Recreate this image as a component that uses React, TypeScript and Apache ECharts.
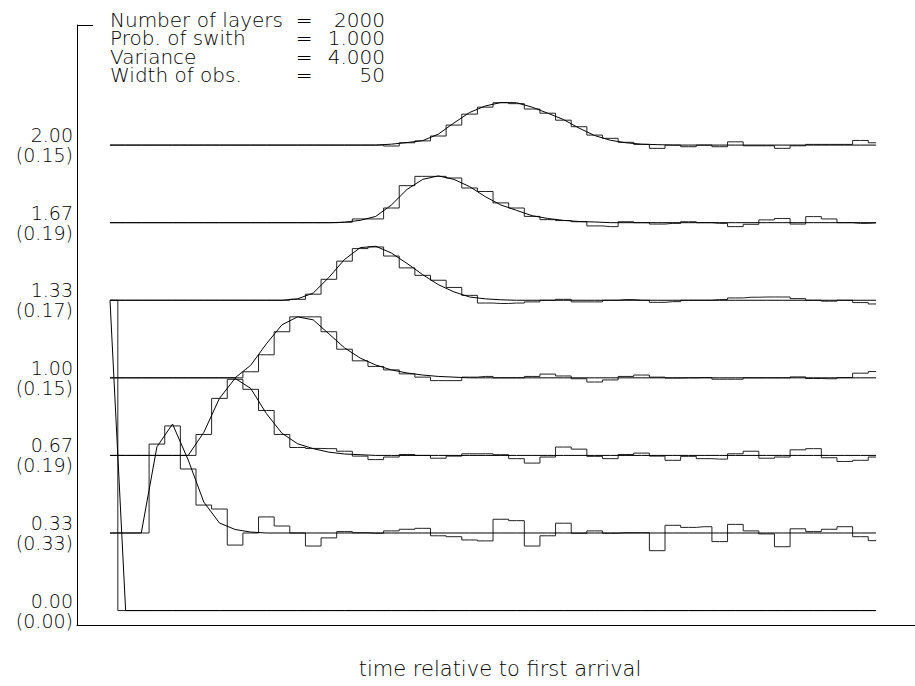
import React, { useEffect, useRef } from "react";
import * as echarts from "echarts";

// ---- data ----
const LEVELS = [0, 1 / 3, 2 / 3, 1, 4 / 3, 5 / 3, 2];
const LEVEL_LABELS = ["0.00", "0.33", "0.67", "1.00", "1.33", "1.67", "2.00"];
const SCALE_LABELS = ["(0.00)", "(0.33)", "(0.19)", "(0.15)", "(0.17)", "(0.19)", "(0.15)"];

const INFO_NAMES = ["Number of layers", "Prob. of swith", "Variance", "Width of obs."];
const INFO_VALUES = ["2000", "1.000", "4.000", "50"];
const X_TITLE = "time relative to first arrival";

// histograms (observed) and model curves, amplitude above each trace's level
const H0 = [1.333,0,0,0,0,0,0,0,0,0, 0,0,0,0,0,0,0,0,0,0, 0,0,0,0,0,0,0,0,0,0, 0,0,0,0,0,0,0,0,0,0, 0,0,0,0,0,0,0,0,0,0];
const C0 = [1.333,0,0,0,0,0,0,0,0,0, 0,0,0,0,0,0,0,0,0,0, 0,0,0,0,0,0,0,0,0,0, 0,0,0,0,0,0,0,0,0,0, 0,0,0,0,0,0,0,0,0,0];

const H1 = [0,0,0,0.382,0.460,0.275,0.120,0.103,-0.052,0,
  0.069,0.030,0,-0.056,-0.021,0.006,0.001,-0.001,0.009,0.016,
  0.020,-0.012,-0.016,-0.030,-0.034,0.059,0.053,-0.056,-0.012,0.042,
  -0.001,0.009,-0.001,0.001,0.001,-0.076,0.033,0.024,0.027,-0.037,
  0.037,0.009,-0.004,-0.059,0.018,0.006,0.016,0.027,-0.016,-0.033];
const C1 = [0,0,0,0.370,0.468,0.314,0.133,0.043,0.015,0.004,
  0,0,0,0,0,0,0,0,0,0, 0,0,0,0,0,0,0,0,0,0, 0,0,0,0,0,0,0,0,0,0, 0,0,0,0,0,0,0,0,0,0];

const H2 = [0,0,0,0,0,0,0.090,0.245,0.327,0.284,
  0.193,0.090,0.034,0.030,0.029,0.018,-0.003,-0.018,-0.007,0.004,
  0,-0.012,-0.003,0.007,0.007,0.003,-0.014,-0.033,-0.007,0.036,
  0.027,-0.004,-0.014,0.004,0.010,-0.003,-0.021,-0.004,-0.014,-0.016,
  0.007,0.018,-0.012,-0.007,0.024,0.029,-0.010,-0.026,-0.021,-0.007];
const C2 = [0,0,0,0,0,0,0.099,0.245,0.331,0.288,
  0.180,0.095,0.050,0.029,0.014,0.006,0.003,0,0,0,
  0,0,0,0,0,0,0,0,0,0, 0,0,0,0,0,0,0,0,0,0, 0,0,0,0,0,0,0,0,0,0];

const H3 = [0,0,0,0,0,0,0,0,0,0.026,
  0.099,0.198,0.262,0.262,0.198,0.123,0.073,0.049,0.034,0.017,
  0.003,-0.012,-0.012,0.003,0.006,0,0,0.006,0.016,0.008,
  -0.004,-0.018,-0.009,0.006,0.012,0.003,-0.001,0,0.001,-0.006,
  -0.006,0,0,0,0.004,-0.003,-0.004,0.001,0.020,0.027];
const C3 = [0,0,0,0,0,0,0,0,0,0.054,
  0.146,0.228,0.262,0.249,0.189,0.129,0.085,0.055,0.034,0.021,
  0.012,0.006,0.003,0,0,0,0,0,0,0,
  0,0,0,0,0,0,0,0,0,0, 0,0,0,0,0,0,0,0,0,0];

const H4 = [0,0,0,0,0,0,0,0,0,0,
  0,0,0.004,0.026,0.090,0.168,0.222,0.229,0.190,0.139,
  0.107,0.086,0.055,0.021,-0.012,-0.014,-0.012,-0.007,0,0.004,
  -0.007,-0.007,0,0.003,0,-0.009,-0.006,0,0,0.003,
  0.010,0.013,0.014,0.014,0.007,0,-0.004,0,-0.010,-0.016];
const C4 = [0,0,0,0,0,0,0,0,0,0,
  0,0,0.006,0.031,0.098,0.175,0.226,0.232,0.203,0.158,
  0.110,0.067,0.036,0.014,0.006,0.002,0,0,0,0,
  0,0,0,0,0,0,0,0,0,0, 0,0,0,0,0,0,0,0,0,0];

const H5 = [0,0,0,0,0,0,0,0,0,0,
  0,0,0,0,0,0.002,0.016,0.016,0.063,0.159,
  0.199,0.199,0.192,0.149,0.134,0.085,0.063,0.027,0.013,0.009,
  0.004,-0.014,-0.017,0.004,0,-0.006,-0.003,0.004,0,-0.003,
  -0.017,-0.007,0.012,0.018,-0.006,0.026,0.016,0,-0.003,-0.001];
const C5 = [0,0,0,0,0,0,0,0,0,0,
  0,0,0,0,0,0.002,0.010,0.027,0.076,0.143,
  0.186,0.201,0.186,0.155,0.112,0.076,0.053,0.030,0.018,0.010,
  0.005,0.003,0,0,0,0,0,0,0,0, 0,0,0,0,0,0,0,0,0,0];

const H6 = [0,0,0,0,0,0,0,0,0,0,
  0,0,0,0,0,0,0,0,-0.004,0.010,
  0.018,0.039,0.086,0.133,0.163,0.182,0.178,0.155,0.137,0.107,
  0.079,0.043,0.029,0.012,0.003,-0.014,0,-0.007,0,-0.007,
  0.014,-0.003,-0.003,-0.014,-0.003,0.003,0.003,0.003,0.020,0.010];
const C6 = [0,0,0,0,0,0,0,0,0,0,
  0,0,0,0,0,0,0,0,0.004,0.011,
  0.019,0.047,0.095,0.140,0.168,0.183,0.182,0.163,0.137,0.110,
  0.073,0.041,0.021,0.010,0.004,0.002,0,0,0,0,
  0,0,0,0,0,0,0,0,0,0];

const HISTS = [H0, H1, H2, H3, H4, H5, H6];
const CURVES = [C0, C1, C2, C3, C4, C5, C6];

const FONT = "DejaVu Sans";

export default function App() {
  const ref = useRef<HTMLDivElement>(null);
  useEffect(() => {
    if (!ref.current) return;
    const chart = echarts.init(ref.current, null, { renderer: "svg" });
    const series: any[] = [];
    LEVELS.forEach((lv, t) => {
      series.push({
        type: "line",
        step: "middle",
        symbol: "none",
        silent: true,
        lineStyle: { color: "#222", width: 1 },
        data: HISTS[t].map((v, k) => [k, lv + v]),
      });
      series.push({
        type: "line",
        symbol: "none",
        silent: true,
        lineStyle: { color: "#000", width: 1 },
        data: CURVES[t].map((v, k) => [k, lv + v]),
      });
    });
    const block = (text: string, x: number, yTop: number, align: string, size: number, lh: number) => ({
      type: "text",
      x,
      y: yTop,
      silent: true,
      style: {
        text,
        fill: "#000",
        fontFamily: FONT,
        fontWeight: 200,
        fontSize: size,
        lineHeight: lh,
        align,
        verticalAlign: "top",
      },
    });
    const LH = 18.3;
    const top = 20 - LH / 2;
    const graphic: any[] = [
      {
        type: "line",
        silent: true,
        shape: { x1: 77, y1: 25.5, x2: 93, y2: 25.5 },
        style: { stroke: "#000", lineWidth: 1 },
      },
      block(INFO_NAMES.join("\n"), 110, top, "left", 20, LH),
      block(["=", "=", "=", "="].join("\n"), 304, top, "center", 20, LH),
      block(INFO_VALUES.join("\n"), 385, top, "right", 20, LH),
      block(X_TITLE, 500, 669 - 12, "center", 21, 24),
    ];

    chart.setOption({
      animation: false,
      backgroundColor: "#fff",
      grid: { left: 77, right: 0, top: 25, bottom: 61, containLabel: false, outerBoundsMode: "none" },
      xAxis: {
        type: "value",
        min: -2.111,
        max: 51.49,
        axisLine: { show: true, onZero: false, lineStyle: { color: "#000", width: 1 } },
        axisTick: { show: false },
        axisLabel: { show: false },
        splitLine: { show: false },
      },
      yAxis: {
        type: "value",
        min: -0.062,
        max: 2.516,
        axisLine: { show: true, onZero: false, lineStyle: { color: "#000", width: 1 } },
        axisTick: { show: false },
        splitLine: { show: false },
        axisLabel: {
          show: true,
          customValues: LEVELS,
          margin: 4,
          color: "#000",
          fontFamily: FONT,
          fontWeight: 200,
          fontSize: 19,
          lineHeight: 20,
          align: "right",
          padding: [5, 0, 0, 0],
          formatter: (v: number) => {
            const i = LEVELS.findIndex((l) => Math.abs(l - v) < 1e-6);
            return i < 0 ? "" : LEVEL_LABELS[i] + "\n" + SCALE_LABELS[i];
          },
        },
      },
      graphic,
      series,
    });
    return () => chart.dispose();
  }, []);
  return (
    <div
      ref={ref}
      style={{ position: "fixed", left: 0, top: 0, width: 915, height: 686, background: "#fff" }}
    />
  );
}
